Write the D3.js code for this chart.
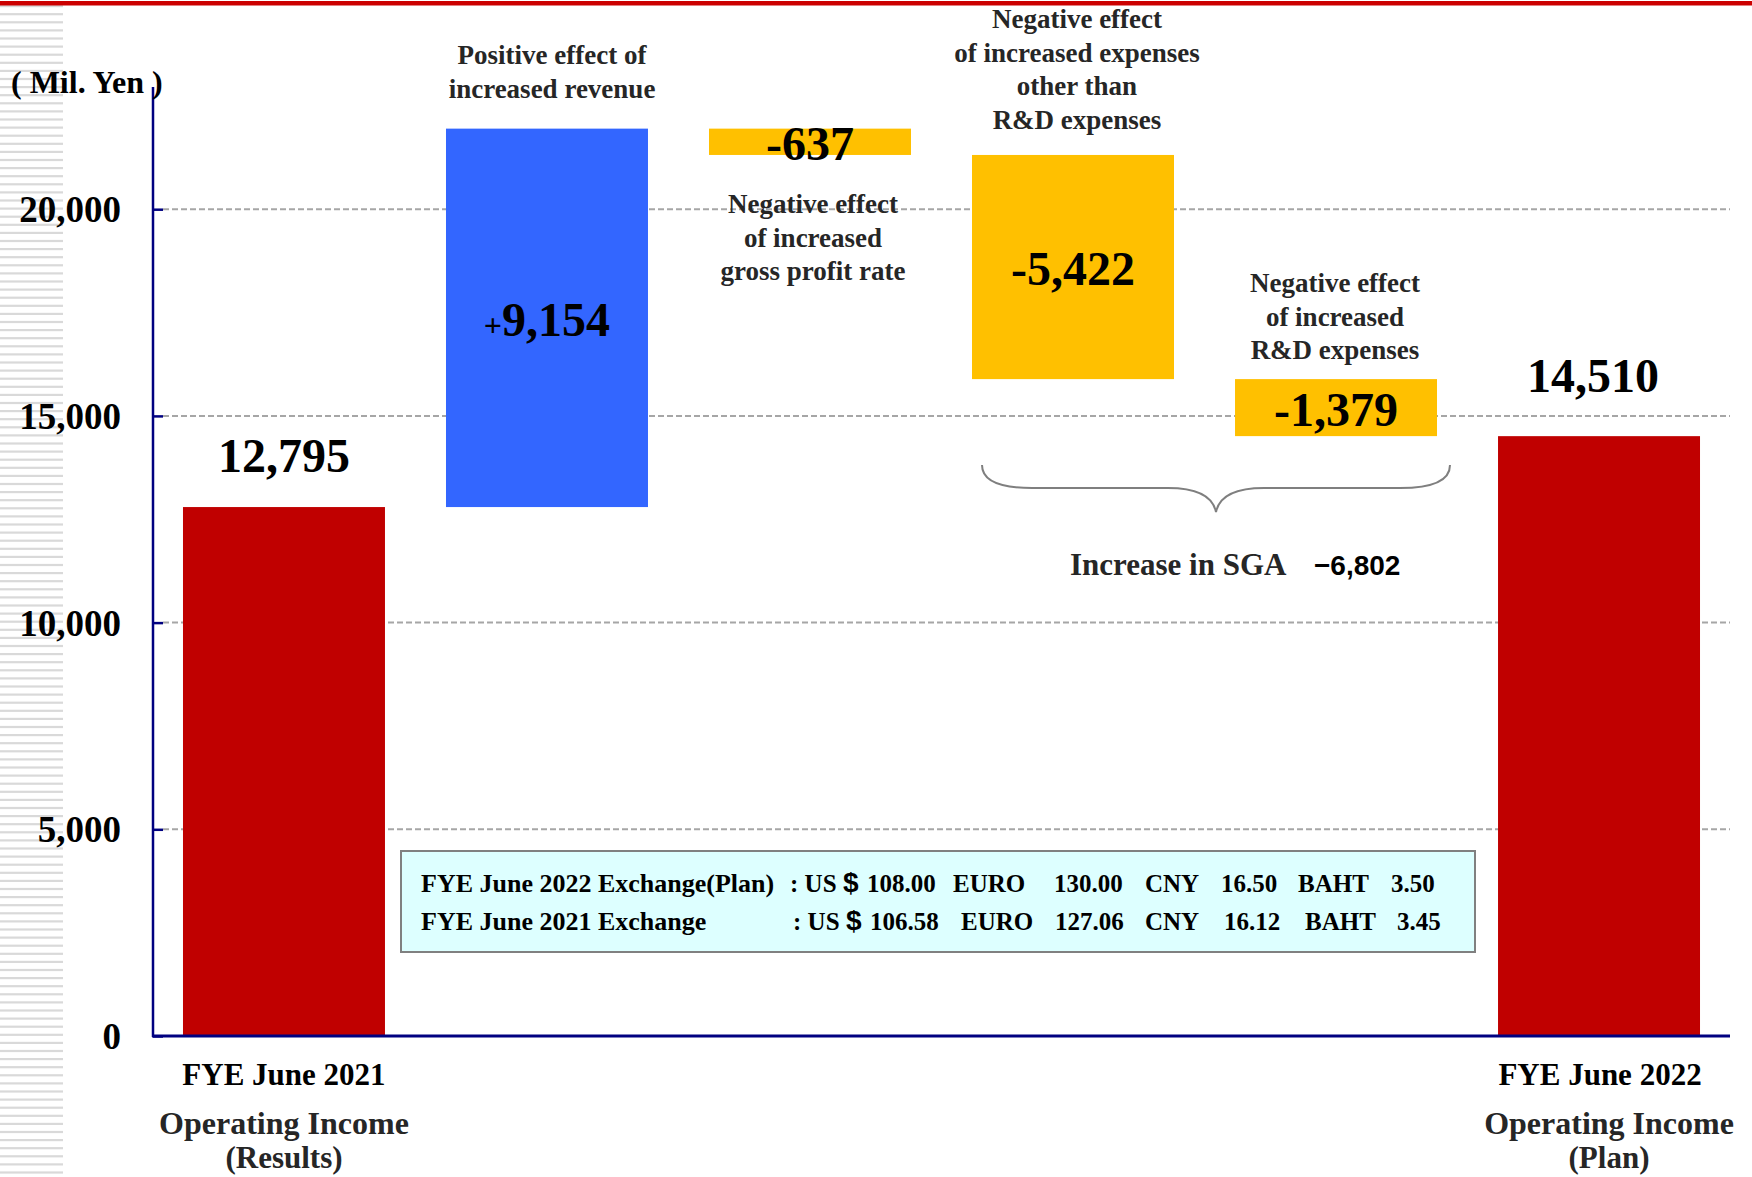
<!DOCTYPE html>
<html>
<head>
<meta charset="utf-8">
<script src="https://cdn.jsdelivr.net/npm/d3@7"></script>
<style>
  body { margin: 0; background: #fff; }
  svg { display: block; }
  text { font-family: "Liberation Serif", "Times New Roman", serif; font-weight: bold; }
  text.sans { font-family: "Liberation Sans", Arial, sans-serif; }
</style>
</head>
<body>
<div id="chart"></div>
<script>
// chart values
let steps = ["FYE June 2021", "revenue", "gross profit rate", "other expenses", "R&D expenses", "FYE June 2022"];
let stepKinds = ["total", "up", "down", "down", "down", "total"];
let stepValues = [12795, 9154, -637, -5422, -1379, 14510];
let stepLabels = ["12,795", "9,154", "-637", "-5,422", "-1,379", "14,510"];
let yTicks = [0, 5000, 10000, 15000, 20000];

let notes = [
  ["Positive effect of", "increased revenue"],
  ["Negative effect", "of increased", "gross profit rate"],
  ["Negative effect", "of increased expenses", "other than", "R&D expenses"],
  ["Negative effect", "of increased", "R&D expenses"]
];
let sgaText = "Increase in SGA";
let sgaValue = "\u22126,802";
let catTitles = [
  ["FYE June 2021", "Operating Income", "(Results)"],
  ["FYE June 2022", "Operating Income", "(Plan)"]
];

let fxRows = ["FYE June 2022 Exchange(Plan)", "FYE June 2021 Exchange"];
let fxNames = ["EURO", "CNY", "BAHT"];
let fxUSD = ["108.00", "106.58"];
let fxEURO = ["130.00", "127.06"];
let fxCNY = ["16.50", "16.12"];
let fxBAHT = ["3.50", "3.45"];

let width = 1752;
let height = 1177;

let svg = d3.select("#chart")
  .append("svg")
  .attr("width", width)
  .attr("height", height);

// left stripes and top red rule
let stripes = d3.range(5, height, 8.1);
svg.selectAll(".stripe")
  .data(stripes)
  .enter()
  .append("rect")
  .attr("class", "stripe")
  .attr("x", 0)
  .attr("y", d => d)
  .attr("width", 63)
  .attr("height", 2.2)
  .attr("fill", "#d9d9d9");

svg.append("rect")
  .attr("x", 0).attr("y", 1)
  .attr("width", width).attr("height", 4.5)
  .attr("fill", "#cc0000");

let xScale = d3.scaleBand()
  .domain(steps)
  .range([153, 1730])
  .paddingInner(0.232)
  .paddingOuter(0.114);

let yScale = d3.scaleLinear()
  .domain([0, 20000])
  .range([1036, 209.2]);

// waterfall tops and bottoms
let running = 0;
let bars = steps.map(function(s, i) {
  let v = stepValues[i];
  let d;
  if (stepKinds[i] === "total") {
    d = { lo: 0, hi: v };
    running = v;
  }
  else {
    d = { lo: Math.min(running, running + v), hi: Math.max(running, running + v) };
    running += v;
  }
  d.key = s;
  d.kind = stepKinds[i];
  d.label = stepLabels[i];
  d.i = i;
  return d;
});

let colors = { total: "#c00000", up: "#3366ff", down: "#ffc000" };

// gridlines
svg.selectAll(".grid")
  .data(yTicks.filter(t => t > 0))
  .enter()
  .append("line")
  .attr("class", "grid")
  .attr("x1", 163)
  .attr("x2", 1730)
  .attr("y1", d => yScale(d))
  .attr("y2", d => yScale(d))
  .attr("stroke", "#a6a6a6")
  .attr("stroke-width", 2)
  .attr("stroke-dasharray", "6,3");

svg.selectAll(".bar")
  .data(bars)
  .enter()
  .append("rect")
  .attr("class", "bar")
  .attr("x", d => xScale(d.key))
  .attr("width", xScale.bandwidth())
  .attr("y", d => yScale(d.hi))
  .attr("height", d => yScale(d.lo) - yScale(d.hi))
  .attr("fill", d => colors[d.kind]);

// axes
let yAxis = d3.axisLeft(yScale)
  .tickValues(yTicks)
  .tickSize(-10)
  .tickPadding(32)
  .tickFormat(d3.format(","));

let yG = svg.append("g")
  .attr("transform", "translate(153,0)")
  .call(yAxis);
yG.select(".domain").remove();
yG.selectAll(".tick line").attr("stroke", "#000080").attr("stroke-width", 2.5);
yG.selectAll(".tick text")
  .attr("fill", "#000")
  .attr("font-size", 37)
  .attr("dy", "0.34em");

svg.append("line")
  .attr("x1", 153).attr("x2", 153)
  .attr("y1", 87).attr("y2", 1037)
  .attr("stroke", "#000080").attr("stroke-width", 2.5);
svg.append("line")
  .attr("x1", 152).attr("x2", 1730)
  .attr("y1", 1036).attr("y2", 1036)
  .attr("stroke", "#000080").attr("stroke-width", 3);

svg.append("text")
  .attr("x", 11).attr("y", 93)
  .attr("font-size", 32)
  .attr("fill", "#000")
  .text("( Mil. Yen )");

// value labels
let totalLift = [35, 44];
let totalShift = [0, -6];
let valueText = svg.selectAll(".val")
  .data(bars)
  .enter()
  .append("text")
  .attr("class", "val")
  .attr("text-anchor", "middle")
  .attr("font-size", 48)
  .attr("fill", "#000")
  .attr("x", function(d) {
    let cx = xScale(d.key) + xScale.bandwidth() / 2;
    if (d.kind === "total") {
      return cx + totalShift[d.i === 0 ? 0 : 1];
    }
    return cx;
  })
  .attr("y", function(d) {
    if (d.kind === "total") {
      return yScale(d.hi) - totalLift[d.i === 0 ? 0 : 1];
    }
    return (yScale(d.hi) + yScale(d.lo)) / 2 + 18;
  });

valueText.each(function(d) {
  let t = d3.select(this);
  if (d.kind === "up") {
    t.append("tspan").attr("font-size", 32).text("+");
  }
  t.append("tspan").text(d.label);
});

// description notes
let noteX = [552, 813, 1077, 1335];
let noteY = [64, 213, 28, 292];
notes.forEach(function(lines, k) {
  svg.append("text")
    .attr("text-anchor", "middle")
    .attr("font-size", 27)
    .attr("fill", "#262626")
    .selectAll("tspan")
    .data(lines)
    .enter()
    .append("tspan")
    .attr("x", noteX[k])
    .attr("y", (d, j) => noteY[k] + j * 33.5)
    .text(d => d);
});

// SGA brace
svg.append("path")
  .attr("d", "M982,465 Q982,488 1032,488 L1168,488 Q1211,488 1216,512 Q1221,488 1264,488 L1400,488 Q1450,488 1450,465")
  .attr("fill", "none")
  .attr("stroke", "#7f7f7f")
  .attr("stroke-width", 2);

svg.append("text")
  .attr("x", 1070).attr("y", 575)
  .attr("font-size", 31)
  .attr("fill", "#262626")
  .text(sgaText);
svg.append("text")
  .attr("class", "sans")
  .attr("x", 1314).attr("y", 575)
  .attr("font-size", 28)
  .attr("fill", "#000")
  .text(sgaValue);

// category titles under the totals
let totalKeys = [steps[0], steps[steps.length - 1]];
let titleShift = [0, 10];
totalKeys.forEach(function(key, k) {
  let cx = xScale(key) + xScale.bandwidth() / 2;
  svg.append("text")
    .attr("x", cx + (k === 1 ? 1 : 0)).attr("y", 1085)
    .attr("text-anchor", "middle")
    .attr("font-size", 31)
    .attr("fill", "#000")
    .text(catTitles[k][0]);
  svg.append("text")
    .attr("x", cx + titleShift[k]).attr("y", 1134)
    .attr("text-anchor", "middle")
    .attr("font-size", 32)
    .attr("fill", "#262626")
    .text(catTitles[k][1]);
  svg.append("text")
    .attr("x", cx + titleShift[k]).attr("y", 1168)
    .attr("text-anchor", "middle")
    .attr("font-size", 31)
    .attr("fill", "#262626")
    .text(catTitles[k][2]);
});

// exchange rate box
svg.append("rect")
  .attr("x", 401).attr("y", 851)
  .attr("width", 1074).attr("height", 101)
  .attr("fill", "#ddffff")
  .attr("stroke", "#808080")
  .attr("stroke-width", 2);

let fxRowY = [892, 930];
let fxCols = [
  [421, 790, 843, 867, 953, 1054, 1145, 1221, 1298, 1391],
  [421, 793, 846, 870, 961, 1055, 1145, 1224, 1305, 1397]
];
fxRows.forEach(function(label, r) {
  let parts = [label, ": US", "$", fxUSD[r], fxNames[0], fxEURO[r], fxNames[1], fxCNY[r], fxNames[2], fxBAHT[r]];
  parts.forEach(function(p, c) {
    let t = svg.append("text")
      .attr("x", fxCols[r][c])
      .attr("y", fxRowY[r])
      .attr("font-size", 25)
      .attr("fill", "#000")
      .text(p);
    if (c === 0) {
      t.attr("font-size", 26);
    }
    if (p === "$") {
      t.attr("class", "sans").attr("font-size", 28);
    }
  });
});
</script>
</body>
</html>
